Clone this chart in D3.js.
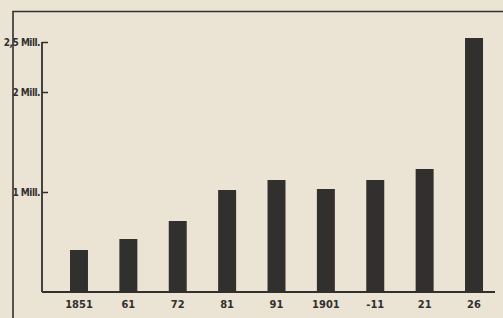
<!DOCTYPE html>
<html>
<head>
<meta charset="utf-8">
<script src="https://cdn.jsdelivr.net/npm/d3@7"></script>
<style>
  html, body { margin: 0; padding: 0; background: #ebe3d3; }
  svg { display: block; }
</style>
</head>
<body>
<div class="canvas"></div>
<script>
// population in millions
const years = ["1851", "61", "72", "81", "91", "1901", "-11", "21", "26"];
const values = [0.42, 0.53, 0.71, 1.02, 1.12, 1.03, 1.12, 1.23, 2.54];
const tickValues = [1, 2, 2.5];
const tickLabels = ["1 Mill.", "2 Mill.", "2,5 Mill."];

const W = 503, H = 318;
const ink = "#32302f";

const svg = d3.select(".canvas")
  .append("svg")
  .attr("width", W)
  .attr("height", H)
  .style("background-color", "#ebe3d3");

const x = d3.scaleBand()
  .domain(years)
  .range([42, 511])
  .paddingInner(0.636)
  .paddingOuter(0.567);

const y = d3.scaleLinear()
  .domain([0, 2.5])
  .range([292, 42]);

// outer frame
svg.append("path")
  .attr("d", `M13,${H} V11.5 H${W}`)
  .attr("fill", "none")
  .attr("stroke", ink)
  .attr("stroke-width", 1.6);

// bars
svg.append("g")
  .selectAll("rect")
  .data(values)
  .join("rect")
  .attr("x", (d, i) => x(years[i]))
  .attr("y", d => y(d))
  .attr("width", x.bandwidth())
  .attr("height", d => y(0) - y(d))
  .attr("fill", ink);

// y axis
const yAxis = svg.append("g")
  .attr("transform", "translate(42,0)")
  .call(d3.axisRight(y)
    .tickValues(tickValues)
    .tickSize(6)
    .tickFormat(""));
yAxis.select(".domain")
  .attr("d", `M0,${y(2.5)} V${y(0)}`)
  .attr("stroke", ink)
  .attr("stroke-width", 1.8);
yAxis.selectAll(".tick line").attr("stroke", ink).attr("stroke-width", 1.5);

svg.append("g")
  .selectAll("text")
  .data(tickValues)
  .join("text")
  .attr("x", 40)
  .attr("y", d => y(d) + 4)
  .attr("text-anchor", "end")
  .attr("fill", ink)
  .style("font-family", "'Liberation Sans Narrow', 'DejaVu Sans Condensed', sans-serif")
  .style("font-weight", "bold")
  .style("font-size", "10px")
  .style("letter-spacing", "-0.5px")
  .text((d, i) => tickLabels[i]);

// baseline + x labels
const xAxis = svg.append("g")
  .attr("transform", `translate(0,${y(0)})`)
  .call(d3.axisBottom(x).tickSize(0).tickPadding(8));
xAxis.select(".domain")
  .attr("d", "M42,0 H495")
  .attr("stroke", ink)
  .attr("stroke-width", 2);
xAxis.selectAll("text")
  .attr("fill", ink)
  .style("font-family", "'Liberation Sans Narrow', 'DejaVu Sans Condensed', sans-serif")
  .style("font-weight", "bold")
  .style("font-size", "11px");
</script>
</body>
</html>
